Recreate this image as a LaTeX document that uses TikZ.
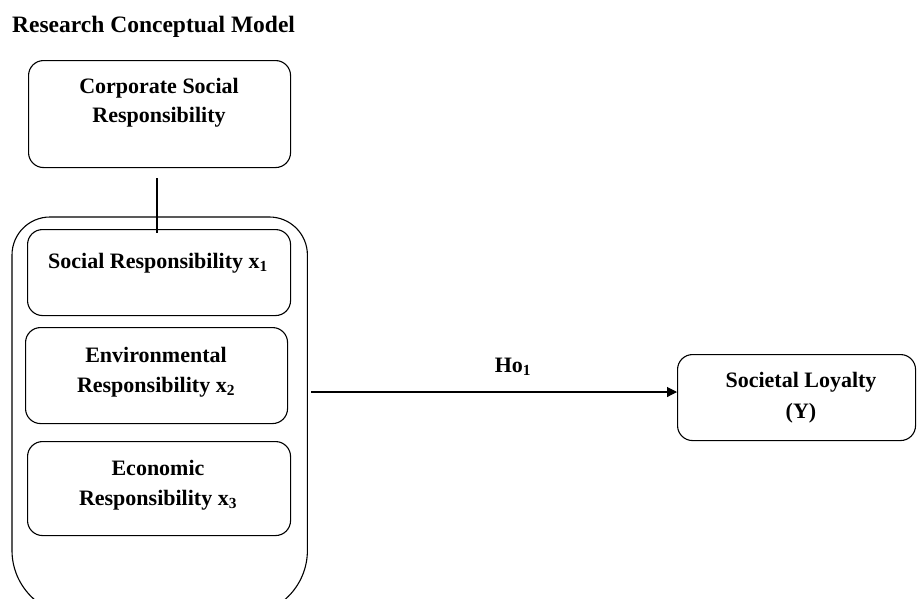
\documentclass[tikz,border=0pt]{standalone}
\usepackage{fontspec}
\setmainfont{Liberation Serif}
\usetikzlibrary{arrows.meta}
\begin{document}
\begin{tikzpicture}[x=1pt,y=-1pt,
  box/.style={draw, line width=1.1pt, rounded corners=15pt, anchor=north west, inner sep=0pt},
  lbl/.style={font=\bfseries\fontsize{22}{29}\selectfont, anchor=base, inner sep=0pt},
  ttl/.style={font=\bfseries\fontsize{23.5}{29}\selectfont, anchor=base west, inner sep=0pt},
  conn/.style={line width=1.1pt}
]
\useasboundingbox (0,0) rectangle (917,598);
\fill[white] (0,0) rectangle (917,598);

\node[ttl] (title) at (12,32) {Research Conceptual Model};

% CSR box
\node[box, minimum width=262pt, minimum height=107pt] (csr) at (28,60) {};
\node[lbl] (csr1) at (159,93) {Corporate Social};
\node[lbl] (csr2) at (159,122) {Responsibility};

% outer container (cut off at the bottom)
\node[anchor=north west, inner sep=0pt, minimum width=295pt, minimum height=398pt] (outer) at (12,217) {};
\begin{scope}
\clip (0,0) rectangle (917,598);
\draw[conn] (outer.west) [rounded corners=38pt] -- (outer.north west) -- (outer.north east)
  [rounded corners=65pt] -- (outer.south east) -- (outer.south west) [sharp corners] -- cycle;
\end{scope}

% dimension boxes
\node[box, minimum width=263pt, minimum height=86pt] (soc) at (27,229) {};
\node[lbl] (soct) at (158,268) {Social Responsibility x\textsubscript{1}};

\node[box, minimum width=262pt, minimum height=96pt] (env) at (25,327) {};
\node[lbl] (env1) at (156,362) {Environmental};
\node[lbl] (env2) at (156,392) {Responsibility x\textsubscript{2}};

\node[box, minimum width=263pt, minimum height=94pt] (eco) at (27,441) {};
\node[lbl] (eco1) at (158,475) {Economic};
\node[lbl] (eco2) at (158,505) {Responsibility x\textsubscript{3}};

% outcome box
\node[box, minimum width=238pt, minimum height=86pt] (soy) at (677,354) {};
\node[lbl] (soy1) at (801,387) {Societal Loyalty};
\node[lbl] (soy2) at (801,418) {(Y)};

% connectors
\coordinate (ls) at (157,178);
\coordinate (le) at (157,233);
\draw[conn] (ls) -- (le);

\coordinate (as) at (311,392);
\coordinate (ae) at (soy.west |- as);
\draw[conn, -{Triangle[length=10pt,width=10pt]}] (as) -- (ae);
\node[lbl] (ho) at (513,372) {Ho\textsubscript{1}};
\end{tikzpicture}
\end{document}
